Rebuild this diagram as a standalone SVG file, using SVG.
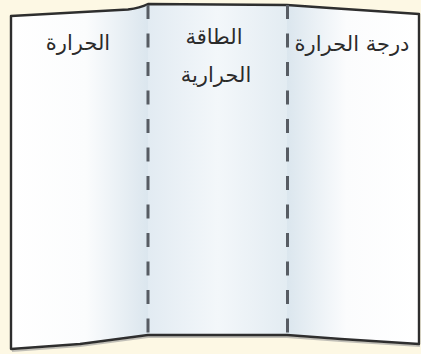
<svg xmlns="http://www.w3.org/2000/svg" width="421" height="354" viewBox="0 0 421 354">
<defs>
<linearGradient id="gL" gradientUnits="userSpaceOnUse" x1="10" y1="0" x2="148" y2="0">
<stop offset="0" stop-color="#ffffff"/><stop offset="0.55" stop-color="#fbfcfd"/><stop offset="1" stop-color="#dbe6ee"/>
</linearGradient>
<linearGradient id="gM" gradientUnits="userSpaceOnUse" x1="148" y1="0" x2="287" y2="0">
<stop offset="0" stop-color="#e2ebf2"/><stop offset="0.5" stop-color="#f3f7fa"/><stop offset="1" stop-color="#e3ecf2"/>
</linearGradient>
<linearGradient id="gR" gradientUnits="userSpaceOnUse" x1="287" y1="0" x2="419" y2="0">
<stop offset="0" stop-color="#dbe6ee"/><stop offset="0.45" stop-color="#fbfcfd"/><stop offset="1" stop-color="#ffffff"/>
</linearGradient>
<style>
.edge{fill:none;stroke:#2e2e2e;stroke-width:2.4;stroke-linejoin:round}
.shadow{fill:none;stroke:#9a9a9a;stroke-width:2;opacity:0.6}
.fold{stroke:#575c63;stroke-width:3;stroke-dasharray:14 14.5}
.lbl{font-family:"DejaVu Sans",sans-serif;font-size:21px;fill:#2b2b2b;text-anchor:middle}
</style>
</defs>
<rect width="421" height="354" fill="#fdf8e4"/>
<g id="panel-left">
<path d="M11,16 L128,9.5 Q140,8 148,4 L148,335 L80,344 L11,349 Z" fill="url(#gL)"/>
<text class="lbl" x="78" y="50">الحرارة</text>
</g>
<g id="panel-middle">
<path d="M148,4 L287,5 L287,335 L148,335 Z" fill="url(#gM)"/>
<text class="lbl" x="214" y="44">الطاقة</text>
<text class="lbl" x="216" y="82">الحرارية</text>
</g>
<g id="panel-right">
<path d="M287,5 Q300,6 330,8 L419,14 L419,344 L341,339 L287,335 Z" fill="url(#gR)"/>
<text class="lbl" x="352" y="51">درجة الحرارة</text>
</g>
<g id="outline">
<path class="shadow" d="M12,351 L80,346 L148,337 L287,337 L341,341 L420,346"/>
<path class="edge" d="M11,16 L128,9.5 Q140,8 148,4 L287,5 Q300,6 330,8 L419,14 L419,344 L341,339 L287,335 L148,335 L80,344 L11,349 Z"/>
</g>
<g id="folds">
<line class="fold" x1="148" y1="5" x2="148" y2="334"/>
<line class="fold" x1="287.5" y1="5" x2="287.5" y2="334"/>
</g>
</svg>
